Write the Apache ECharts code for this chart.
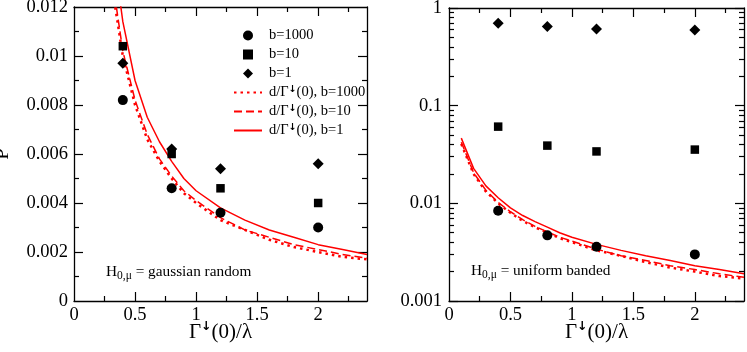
<!DOCTYPE html>
<html>
<head>
<meta charset="utf-8">
<script src="https://cdn.jsdelivr.net/npm/echarts@6/dist/echarts.min.js"></script>
<style>
  html, body { margin: 0; padding: 0; background: #fff; }
  #chart { width: 747px; height: 352px; }
</style>
</head>
<body>
<div id="chart"></div>
<script>
// measured points (x = Γ↓(0)/λ)
const pointX = [0.4, 0.8, 1.2, 2.0];
const gaussB1000 = [0.0082, 0.0046, 0.0036, 0.0030];
const gaussB10 = [0.0104, 0.0060, 0.0046, 0.0040];
const gaussB1 = [0.0097, 0.0062, 0.0054, 0.0056];
const bandB1000 = [0.0084, 0.0047, 0.0036, 0.0030];
const bandB10 = [0.061, 0.039, 0.034, 0.0355];
const bandB1 = [0.70, 0.645, 0.61, 0.595];

// d/Γ↓(0) curves
const curveX = [0.1, 0.2, 0.3, 0.4, 0.5, 0.6, 0.7, 0.8, 0.9, 1.0, 1.2, 1.4, 1.6, 1.8, 2.0, 2.2, 2.4];
const curveB1000 = [0.0406, 0.0200, 0.0132, 0.0100, 0.0080, 0.0066, 0.0057, 0.0050, 0.0044, 0.0040, 0.0033, 0.0029, 0.0025, 0.0022, 0.0020, 0.0018, 0.0017];
const curveB10 = [0.0423, 0.0206, 0.0136, 0.0102, 0.0082, 0.0068, 0.0058, 0.0051, 0.0045, 0.0041, 0.0034, 0.0029, 0.0026, 0.0023, 0.0021, 0.0019, 0.00175];
const curveB1 = [0.0465, 0.0228, 0.0151, 0.0114, 0.0090, 0.0075, 0.0065, 0.0057, 0.0050, 0.0045, 0.0038, 0.0033, 0.0029, 0.0026, 0.0023, 0.0021, 0.0019];

// ticks
const xLabels = [0, 0.5, 1, 1.5, 2];
const xMajor = [0.5, 1, 1.5, 2];
const xMinor = [0.25, 0.75, 1.25, 1.75, 2.25];
const linLabels = [0, 0.002, 0.004, 0.006, 0.008, 0.01, 0.012];
const linMajor = [0.002, 0.004, 0.006, 0.008, 0.01];
const linMinor = [0.001, 0.003, 0.005, 0.007, 0.009, 0.011];
const logMinor = [0.002, 0.003, 0.004, 0.005, 0.006, 0.007, 0.008, 0.009,
                  0.02, 0.03, 0.04, 0.05, 0.06, 0.07, 0.08, 0.09,
                  0.2, 0.3, 0.4, 0.5, 0.6, 0.7, 0.8, 0.9];

const FONT = 'Liberation Serif';
const ARROW_FONT = 'DejaVu Sans';
const RED = '#ff0000';
const sup = { fontSize: 12.5, fontWeight: 'bold', lineHeight: 16, verticalAlign: 'top', fontFamily: ARROW_FONT, color: '#000' };

function pts(xs, ys) {
  return xs.map((x, i) => [x, ys[i]]);
}

// axis carrying only inward ticks (and optionally the frame line)
function tickAxis(grid, pos, min, max, ticks, len, showLine, type) {
  const ax = {
    gridIndex: grid, position: pos, type: type || 'value', min: min, max: max,
    axisLine: { show: showLine, onZero: false, lineStyle: { color: '#000', width: 1.3 } },
    axisTick: { show: true, inside: true, length: len, lineStyle: { color: '#000', width: 1.2 } },
    axisLabel: { show: false },
    splitLine: { show: false }
  };
  if (ticks) ax.axisTick.customValues = ticks;
  return ax;
}

const labelStyle = { show: true, color: '#000', fontFamily: FONT, fontSize: 18.5 };
const xName = {
  name: 'Γ{s|↓}(0)/λ', nameLocation: 'middle', nameGap: 19, nameMoveOverlap: false,
  nameTextStyle: { color: '#000', fontFamily: FONT, fontSize: 21, lineHeight: 24, rich: { s: sup } }
};

const xAxes = [];
const yAxes = [];
[0, 1].forEach(g => {
  const main = tickAxis(g, 'bottom', 0, 2.4, xMajor, 9, true);
  main.axisLabel = Object.assign({ margin: 5, customValues: xLabels }, labelStyle);
  Object.assign(main, xName);
  xAxes.push(main);
  xAxes.push(tickAxis(g, 'top', 0, 2.4, xMajor, 9, true));
  xAxes.push(tickAxis(g, 'bottom', 0, 2.4, xMinor, 5, false));
  xAxes.push(tickAxis(g, 'top', 0, 2.4, xMinor, 5, false));
});

// left panel: linear P
const yLin = tickAxis(0, 'left', 0, 0.012, linMajor, 9, true);
yLin.axisLabel = Object.assign({ margin: 6, customValues: linLabels }, labelStyle);
Object.assign(yLin, {
  name: 'P', nameLocation: 'middle', nameGap: 61, nameRotate: 90,
  nameTextStyle: { color: '#000', fontFamily: FONT, fontSize: 21 }
});
yAxes.push(yLin);
yAxes.push(tickAxis(0, 'right', 0, 0.012, linMajor, 9, true));
yAxes.push(tickAxis(0, 'left', 0, 0.012, linMinor, 5, false));
yAxes.push(tickAxis(0, 'right', 0, 0.012, linMinor, 5, false));

// right panel: log P
const yLog = tickAxis(1, 'left', 0.001, 1, null, 9, true, 'log');
yLog.logBase = 10;
yLog.axisLabel = Object.assign({ margin: 7 }, labelStyle);
yAxes.push(yLog);
const yLogR = tickAxis(1, 'right', 0.001, 1, null, 9, true, 'log');
yLogR.logBase = 10;
yAxes.push(yLogR);
const logMinorPos = logMinor.map(v => Math.log10(v));
yAxes.push(tickAxis(1, 'left', -3, 0, logMinorPos, 5, false));
yAxes.push(tickAxis(1, 'right', -3, 0, logMinorPos, 5, false));

const names = ['b=1000', 'b=10', 'b=1', 'd/Γ↓(0), b=1000', 'd/Γ↓(0), b=10', 'd/Γ↓(0), b=1'];

function panelSeries(xi, yi, b1000, b10, b1) {
  const sc = (name, symbol, size, data) => ({
    name: name, type: 'scatter', xAxisIndex: xi, yAxisIndex: yi,
    symbol: symbol, symbolSize: size, symbolKeepAspect: true,
    itemStyle: { color: '#000', opacity: 1 },
    data: pts(pointX, data), z: 5
  });
  const ln = (name, data, width, dash) => ({
    name: name, type: 'line', xAxisIndex: xi, yAxisIndex: yi,
    symbol: 'none', showSymbol: false, clip: true, z: 3,
    lineStyle: { color: RED, width: width, type: dash },
    itemStyle: { color: RED, opacity: 0 },
    data: pts(curveX, data)
  });
  return [
    sc(names[0], 'circle', 10, b1000),
    sc(names[1], 'rect', 8.5, b10),
    sc(names[2], 'diamond', 11, b1),
    ln(names[3], curveB1000, 2.5, [2.5, 4]),
    ln(names[4], curveB10, 1.5, [8, 4]),
    ln(names[5], curveB1, 1.5, 'solid')
  ];
}

const legendData = [
  { name: names[0], icon: 'circle', itemStyle: { opacity: 1 } },
  { name: names[1], icon: 'path://M0,0H10V10H0Z', itemStyle: { opacity: 1 } },
  { name: names[2], icon: 'path://M5,0L10,5L5,10L0,5Z', itemStyle: { opacity: 1 } },
  { name: names[3], itemStyle: { opacity: 0 } },
  { name: names[4], itemStyle: { opacity: 0 } },
  { name: names[5], itemStyle: { opacity: 0 } }
];

const subRich = {
  sub: { fontSize: 11.5, lineHeight: 8, verticalAlign: 'bottom', fontFamily: FONT, fill: '#000' }
};

const chart = echarts.init(document.getElementById('chart'), null, { renderer: 'canvas' });
chart.setOption({
  backgroundColor: '#fff',
  animation: false,
  grid: [
    { left: 74, top: 7, width: 293, height: 294, outerBoundsMode: 'none' },
    { left: 449, top: 8, width: 295, height: 293, outerBoundsMode: 'none' }
  ],
  xAxis: xAxes,
  yAxis: yAxes,
  legend: {
    left: 233, top: 28, orient: 'vertical', padding: 0,
    itemWidth: 28, itemHeight: 10, itemGap: 4,
    symbolKeepAspect: true,
    data: legendData,
    formatter: n => n.replace('↓', '{s|↓}'),
    textStyle: {
      color: '#000', fontFamily: FONT, fontSize: 14.5, lineHeight: 15, padding: [0, 0, 0, 2],
      rich: { s: { fontSize: 9.5, fontWeight: 'bold', lineHeight: 12, verticalAlign: 'top', fontFamily: ARROW_FONT, color: '#000' } }
    }
  },
  graphic: [
    {
      type: 'text', left: 106, top: 262, silent: true,
      style: { text: 'H{sub|0,μ} = gaussian random', font: '15.3px "Liberation Serif"', fill: '#000', lineHeight: 20, rich: subRich }
    },
    {
      type: 'text', left: 471, top: 261, silent: true,
      style: { text: 'H{sub|0,μ} = uniform banded', font: '15.3px "Liberation Serif"', fill: '#000', lineHeight: 20, rich: subRich }
    }
  ],
  series: [].concat(
    panelSeries(0, 0, gaussB1000, gaussB10, gaussB1),
    panelSeries(4, 4, bandB1000, bandB10, bandB1)
  )
});
</script>
</body>
</html>
